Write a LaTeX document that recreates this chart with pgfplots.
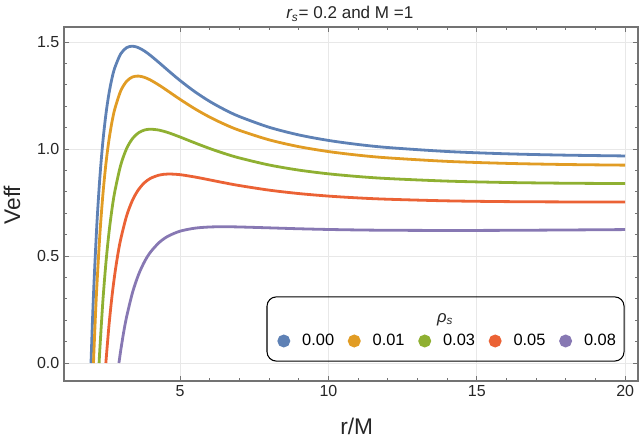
\documentclass[border=0pt]{standalone}
\usepackage{pgfplots}
\pgfplotsset{compat=1.18}
\usepackage{fontspec}
\setmainfont{Liberation Sans}
\definecolor{c1}{HTML}{5E81B5}
\definecolor{c2}{HTML}{E19C24}
\definecolor{c3}{HTML}{8FB032}
\definecolor{c4}{HTML}{EB6235}
\definecolor{c5}{HTML}{8778B3}
\begin{document}
\begin{tikzpicture}
\useasboundingbox (-48pt,-46.5pt) rectangle (432pt,285.75pt);
\begin{axis}[
  at={(0,0)}, anchor=south west,
  scale only axis, width=430.5pt, height=265.5pt,
  xmin=1.09, xmax=20.43, ymin=-0.084, ymax=1.570,
  xtick={5,10,15,20}, ytick={0,0.5,1,1.5},
  minor x tick num=4, minor y tick num=4,
  tick pos=both, tick align=inside,
  major tick length=4pt, minor tick length=2.2pt,
  every tick/.style={black!55, line width=0.6pt},
  axis line style={black!55, line width=0.8pt},
  grid=major, major grid style={gray!18, line width=0.6pt},
  /pgf/number format/assume math mode=true,
  yticklabel style={/pgf/number format/fixed, /pgf/number format/fixed zerofill, /pgf/number format/precision=1},
  ticklabel style={font=\fontsize{12}{14}\selectfont, text=black!85},
  xlabel={r/M}, ylabel={Veff},
  every axis x label/.style={at={(axis description cs:0.51,-0.128)}, anchor=center, font=\fontsize{17}{19}\selectfont, text=black!85},
  every axis y label/.style={at={(axis description cs:-0.0906,0.497)}, rotate=90, anchor=center, font=\fontsize{17}{19}\selectfont, text=black!85},
  title={{\itshape r}\textsubscript{\itshape s}= 0.2 and M =1},
  every axis title/.style={at={(axis description cs:0.498,1.0226)}, anchor=base, font=\fontsize{12.8}{14}\selectfont, text=black!85},
  legend columns=5,
  legend image code/.code={\fill[#1] (0pt,0pt) circle (3.75pt);},
  legend style={draw=none, fill=none, at={(axis description cs:0.669,0.113)}, anchor=center,
    font=\fontsize{12.3}{14}\selectfont, column sep=7pt,
    /tikz/every even column/.append style={column sep=8.3pt}},
  every axis plot/.append style={line width=2.1pt, smooth},
]
\addplot[c1, forget plot] coordinates {(2.0,0) (2.05,0.1985) (2.1,0.3716) (2.2,0.6544) (2.3,0.8701) (2.4,1.0347) (2.5,1.16) (2.6,1.2549) (2.7,1.3262) (2.8,1.3790) (3.0,1.4444) (3.2,1.4736) (3.4,1.4804) (3.6,1.4733) (3.8,1.4578) (4.0,1.4375) (4.3,1.4027) (4.6,1.3666) (5.0,1.32) (5.5,1.2675) (6.0,1.2222) (6.5,1.1839) (7.0,1.1516) (8.0,1.1016) (9.0,1.0658) (10,1.04) (11,1.0210) (12,1.0069) (14,0.9883) (16,0.9775) (18,0.9712) (20,0.9675)};
\addplot[c2, forget plot] coordinates {(2.0833,0) (2.1,0.0594) (2.15,0.2230) (2.2,0.3665) (2.3,0.6033) (2.4,0.7864) (2.5,0.928) (2.6,1.0374) (2.7,1.1216) (2.8,1.1859) (3.0,1.2711) (3.2,1.3164) (3.4,1.3366) (3.6,1.3407) (3.8,1.3347) (4.0,1.3225) (4.3,1.2978) (4.6,1.2699) (5.0,1.232) (5.5,1.1878) (6.0,1.1489) (6.5,1.1155) (7.0,1.0871) (8.0,1.0428) (9.0,1.0110) (10,0.988) (11,0.9711) (12,0.9586) (14,0.9422) (16,0.9328) (18,0.9275) (20,0.9245)};
\addplot[c3, forget plot] coordinates {(2.2727,0) (2.3,0.0696) (2.4,0.2897) (2.5,0.464) (2.6,0.6024) (2.7,0.7123) (2.8,0.7998) (3.0,0.9244) (3.2,1.0021) (3.4,1.0490) (3.6,1.0755) (3.8,1.0885) (4.0,1.0925) (4.3,1.0880) (4.6,1.0765) (5.0,1.056) (5.5,1.0285) (6.0,1.0022) (6.5,0.9787) (7.0,0.9581) (8.0,0.9253) (9.0,0.9014) (10,0.884) (11,0.8713) (12,0.8619) (14,0.8500) (16,0.8435) (18,0.8401) (20,0.8385)};
\addplot[c4, forget plot] coordinates {(2.5,0) (2.6,0.1673) (2.7,0.3031) (2.8,0.4137) (2.9,0.5040) (3.0,0.5778) (3.2,0.6877) (3.4,0.7613) (3.6,0.8103) (3.8,0.8423) (4.0,0.8625) (4.3,0.8782) (4.6,0.8830) (5.0,0.88) (5.5,0.8691) (6.0,0.8556) (6.5,0.8419) (7.0,0.8291) (8.0,0.8078) (9.0,0.7918) (10,0.78) (11,0.7714) (12,0.7653) (14,0.7577) (16,0.7541) (18,0.7527) (20,0.7525)};
\addplot[c5, forget plot] coordinates {(2.9412,0) (3.0,0.0578) (3.1,0.1436) (3.2,0.2161) (3.4,0.3299) (3.6,0.4125) (3.8,0.4730) (4.0,0.5175) (4.3,0.5635) (4.6,0.5929) (5.0,0.616) (5.5,0.6301) (6.0,0.6356) (6.5,0.6367) (7.0,0.6357) (8.0,0.6316) (9.0,0.6273) (10,0.624) (11,0.6217) (12,0.6203) (14,0.6194) (16,0.6200) (18,0.6216) (20,0.6235)};
\addlegendimage{c1}
\addlegendentry{0.00}
\addlegendimage{c2}
\addlegendentry{0.01}
\addlegendimage{c3}
\addlegendentry{0.03}
\addlegendimage{c4}
\addlegendentry{0.05}
\addlegendimage{c5}
\addlegendentry{0.08}
\draw[black, line width=0.8pt, rounded corners=7pt] (axis cs:7.93,0.009) rectangle (axis cs:19.96,0.309);
\node[font=\fontsize{12.5}{14}\selectfont, text=black!85, anchor=base] at (axis cs:13.93,0.19) {{\itshape ρ}\textsubscript{\itshape s}};
\end{axis}
\end{tikzpicture}
\end{document}
